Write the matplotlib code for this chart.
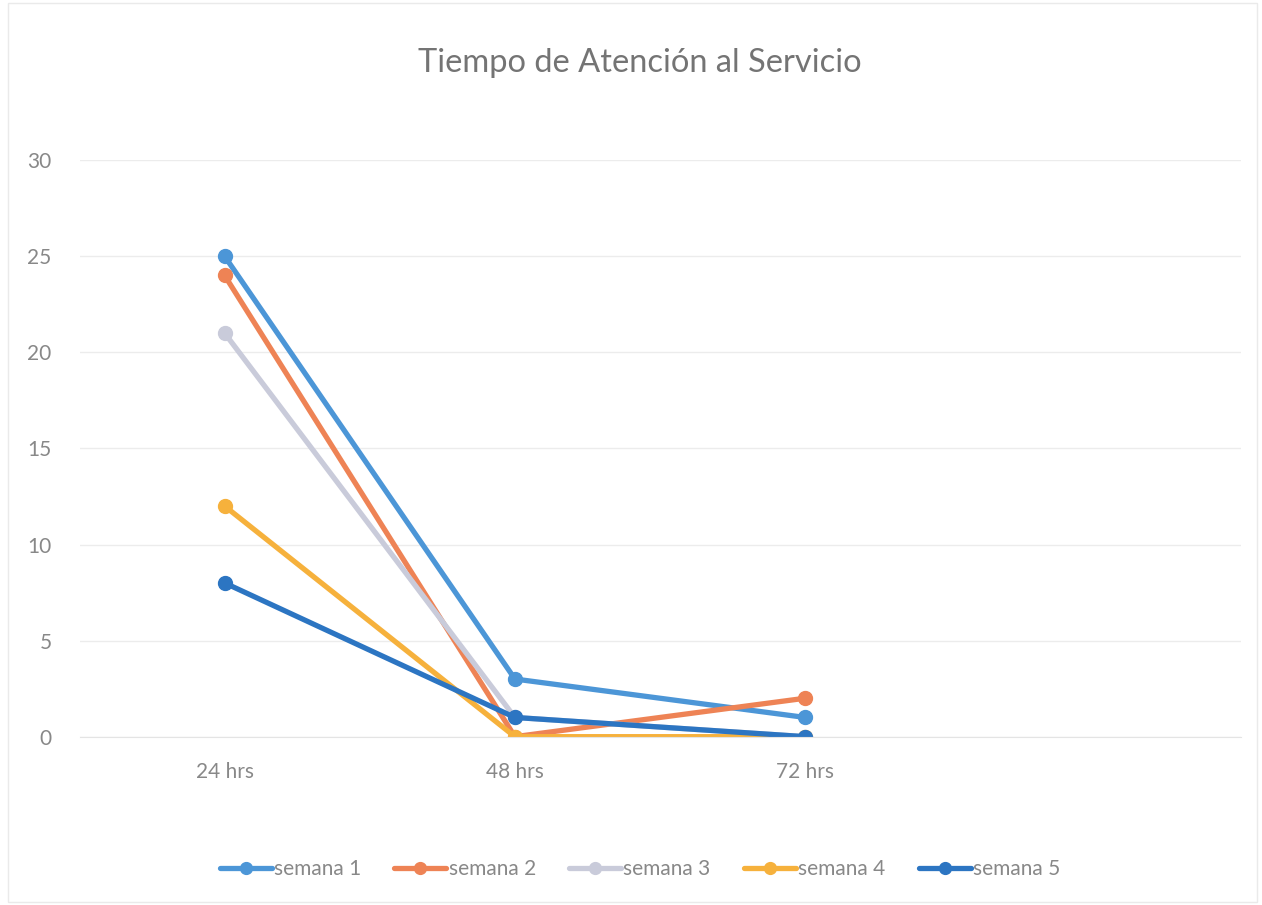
import matplotlib.pyplot as plt
import numpy as np

plt.rcParams['font.family'] = ['Lato', 'DejaVu Sans']

categorias = ['24 hrs', '48 hrs', '72 hrs']
semana1 = [25, 3, 1]
semana2 = [24, 0, 2]
semana3 = [21, 1, 0]
semana4 = [12, 0, 0]
semana5 = [8, 1, 0]

series = [semana1, semana2, semana3, semana4, semana5]
nombres = ['semana 1', 'semana 2', 'semana 3', 'semana 4', 'semana 5']
colores = ['#4C96D7', '#EE8355', '#C9CBDA', '#F6B13C', '#2C75C2']

fig = plt.figure(figsize=(12.62, 9.05), dpi=100)
ax = fig.add_axes([0.063, 0.186, 0.920, 0.637])

x = np.arange(len(categorias))
for datos, nombre, c in zip(series, nombres, colores):
    ax.plot(x, datos, color=c, lw=3.8, marker='o', markersize=10,
            label=nombre, solid_capstyle='round')

ax.set_xlim(-0.5, 3.5)
ax.set_ylim(0, 30)
ax.set_yticks(range(0, 31, 5))
ax.set_xticks(x)
ax.set_xticklabels(categorias)
ax.grid(axis='y', color='#ECECEC', lw=1)
ax.set_axisbelow(True)
for s in ['top', 'right', 'left']:
    ax.spines[s].set_visible(False)
ax.spines['bottom'].set_color('#E4E4E4')
ax.tick_params(length=0, colors='#888888', labelsize=15)
ax.tick_params(axis='x', pad=18)
ax.tick_params(axis='y', pad=20)
ax.patch.set_alpha(0)

fig.text(0.507, 0.930, 'Tiempo de Atención al Servicio', ha='center', va='center',
         fontsize=23.5, color='#747474')

leg = fig.legend(loc='center', bbox_to_anchor=(0.507, 0.04), ncol=5, frameon=False,
                 fontsize=15, labelcolor='#888888', handlelength=2.5, columnspacing=1.6,
                 handletextpad=0.1, markerscale=0.85)

fig.add_artist(plt.Rectangle((0.006, 0.003), 0.99, 0.994, transform=fig.transFigure,
                             fill=False, ec='#EAEAEA', lw=1))

fig.savefig('out.png', dpi=100)
